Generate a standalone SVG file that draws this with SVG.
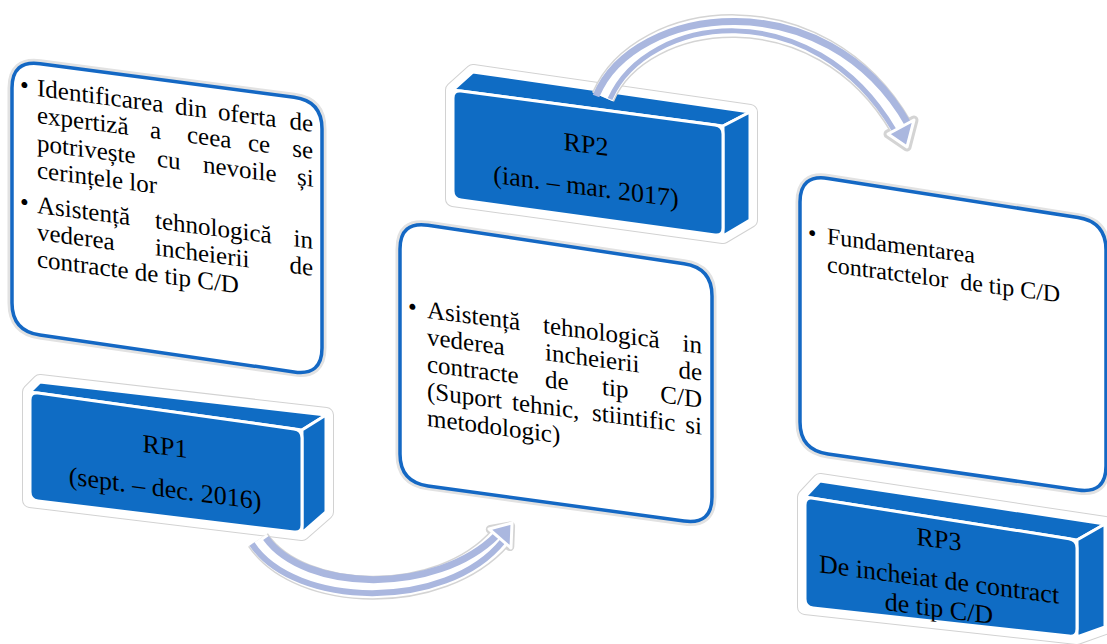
<svg xmlns="http://www.w3.org/2000/svg" width="1107" height="644" viewBox="0 0 1107 644">
<defs>
<style>
.wglow{fill:none;stroke:#e2e2e2;stroke-width:9;stroke-linejoin:round}
.wbox{fill:#fff;stroke:#1468c4;stroke-width:3.5}
.hg{fill:#fff;stroke:#d2d2d2;stroke-width:16;stroke-linejoin:round}
.hw{fill:#fff;stroke:#fff;stroke-width:14;stroke-linejoin:round}
.face{fill:#0f6cc4;stroke:#fff;stroke-width:3;stroke-linejoin:round}
.t{font-family:"Liberation Serif","Times New Roman",serif;font-size:25px;fill:#000}
.t3{font-size:24px}
.tb{font-family:"Liberation Serif","Times New Roman",serif;font-size:26px;fill:#000;text-anchor:middle}
.ag{fill:none;stroke:#d4d4d4;stroke-width:24}
.aw{fill:none;stroke:#fff;stroke-width:21}
.as{fill:none;stroke:#aab7df}
.hd{fill:#aab7df;stroke:#fff;stroke-width:3;stroke-linejoin:round}
.hdg{fill:#fff;stroke:#d4d4d4;stroke-width:9;stroke-linejoin:round}
</style>
</defs>
<rect width="1107" height="644" fill="#fff"/>

<g id="box1">
<path class="wglow" d="M 12,88 Q 12,60 40,63.7 L 294,97.3 Q 322,101 322,129 L 322,348 Q 322,376 294,371.9 L 40,335.1 Q 12,331 12,303 Z"/>
<path class="wbox" d="M 12,88 Q 12,60 40,63.7 L 294,97.3 Q 322,101 322,129 L 322,348 Q 322,376 294,371.9 L 40,335.1 Q 12,331 12,303 Z"/>
<g transform="matrix(1,0.13,0,1,0,-4.81)">
<text class="t" x="20" y="95">•</text>
<text class="t" y="96"><tspan x="37">Identificarea </tspan><tspan x="175">din </tspan><tspan x="218">oferta </tspan><tspan x="289.4">de</tspan></text>
<text class="t" y="123"><tspan x="37">expertiză </tspan><tspan x="150">a </tspan><tspan x="187">ceea </tspan><tspan x="248">ce </tspan><tspan x="292.2">se</tspan></text>
<text class="t" y="151"><tspan x="37">potrivește </tspan><tspan x="157">cu </tspan><tspan x="203">nevoile </tspan><tspan x="297">și</tspan></text>
<text class="t" x="37" y="178">cerințele lor</text>
<text class="t" x="20" y="212">•</text>
<text class="t" y="213"><tspan x="37">Asistență </tspan><tspan x="155">tehnologică </tspan><tspan x="293.5">in</tspan></text>
<text class="t" y="240"><tspan x="37">vederea </tspan><tspan x="155">incheierii </tspan><tspan x="289.4">de</tspan></text>
<text class="t" x="37" y="267">contracte de tip C/D</text>
</g>
</g>

<g id="box2">
<path class="wglow" d="M 400,249 Q 400,221 428,225.2 L 684,263.8 Q 712,268 712,296 L 712,497 Q 712,525 684,521.1 L 428,485.9 Q 400,482 400,454 Z"/>
<path class="wbox" d="M 400,249 Q 400,221 428,225.2 L 684,263.8 Q 712,268 712,296 L 712,497 Q 712,525 684,521.1 L 428,485.9 Q 400,482 400,454 Z"/>
<g transform="matrix(1,0.13,0,1,0,-55.51)">
<text class="t" x="408" y="317">•</text>
<text class="t" y="318"><tspan x="427">Asistență </tspan><tspan x="543">tehnologică </tspan><tspan x="682.5">in</tspan></text>
<text class="t" y="345"><tspan x="427">vederea </tspan><tspan x="545">incheierii </tspan><tspan x="678.4">de</tspan></text>
<text class="t" y="372"><tspan x="427">contracte </tspan><tspan x="545">de </tspan><tspan x="602">tip </tspan><tspan x="660.3">C/D</tspan></text>
<text class="t" y="399"><tspan x="427">(Suport </tspan><tspan x="512">tehnic, </tspan><tspan x="592">stiintific </tspan><tspan x="685.3">si</tspan></text>
<text class="t" x="427" y="426">metodologic)</text>
</g>
</g>

<g id="box3">
<path class="wglow" d="M 800,202 Q 800,174 828,178.4 L 1078,217.6 Q 1106,222 1106,250 L 1106,466 Q 1106,494 1078,490 L 828,454 Q 800,450 800,422 Z"/>
<path class="wbox" d="M 800,202 Q 800,174 828,178.4 L 1078,217.6 Q 1106,222 1106,250 L 1106,466 Q 1106,494 1078,490 L 828,454 Q 800,450 800,422 Z"/>
<g transform="matrix(1,0.13,0,1,0,-107.51)">
<text class="t t3" x="808" y="243">•</text>
<text class="t t3" x="827" y="244">Fundamentarea</text>
<text class="t t3" x="827" y="272" xml:space="preserve">contratctelor  de tip C/D</text>
</g>
</g>

<g id="rp1">
<path class="hg" d="M 30,392 L 40,382 L 326,415 L 326,512 L 302,533 L 30,500 Z"/>
<path class="hw" d="M 30,392 L 40,382 L 326,415 L 326,512 L 302,533 L 30,500 Z"/>
<path class="face" d="M 30,392 L 40,382 L 326,415 L 302,430 Z"/>
<path class="face" d="M 302,430 L 326,415 L 326,512 L 302,533 Z"/>
<path class="face" d="M 30,400 Q 30,392 38,393.1 L 294,428.9 Q 302,430 302,438 L 302,525 Q 302,533 294,532 L 38,501 Q 30,500 30,492 Z"/>
<g transform="matrix(1,0.13,0,1,0,-21.45)">
<text class="tb" x="165" y="455">RP1</text>
<text class="tb" x="165" y="497">(sept. – dec. 2016)</text>
</g>
</g>

<g id="rp2">
<path class="hg" d="M 453,90 L 473,72 L 750,112 L 750,220 L 723,236 L 453,199 Z"/>
<path class="hw" d="M 453,90 L 473,72 L 750,112 L 750,220 L 723,236 L 453,199 Z"/>
<path class="face" d="M 453,90 L 473,72 L 750,112 L 723,126 Z"/>
<path class="face" d="M 723,126 L 750,112 L 750,220 L 723,236 Z"/>
<path class="face" d="M 453,98 Q 453,90 461,91 L 715,125 Q 723,126 723,134 L 723,228 Q 723,236 715,235 L 461,200 Q 453,199 453,191 Z"/>
<g transform="matrix(1,0.13,0,1,0,-76.18)">
<text class="tb" x="586" y="153">RP2</text>
<text class="tb" x="586" y="195">(ian. – mar. 2017)</text>
</g>
</g>

<g id="rp3">
<path class="hg" d="M 805,497 L 820,481 L 1105,524 L 1105,627 L 1077,637 L 805,607 Z"/>
<path class="hw" d="M 805,497 L 820,481 L 1105,524 L 1105,627 L 1077,637 L 805,607 Z"/>
<path class="face" d="M 805,497 L 820,481 L 1105,524 L 1077,540 Z"/>
<path class="face" d="M 1077,540 L 1105,524 L 1105,627 L 1077,637 Z"/>
<path class="face" d="M 805,505 Q 805,497 813,498.3 L 1069,538.7 Q 1077,540 1077,548 L 1077,629 Q 1077,637 1069,636.1 L 813,607.9 Q 805,607 805,599 Z"/>
<g transform="matrix(1,0.13,0,1,0,-122.07)">
<text class="tb" x="939" y="548">RP3</text>
<text class="tb" x="939" y="588">De incheiat de contract</text>
<text class="tb" x="939" y="617">de tip C/D</text>
</g>
</g>

<g id="connectors">
<g id="arrow-rp1-rp2">
<path class="ag" d="M 258,540 C 300,602 440,606 500,538"/>
<polygon class="hdg" points="509.8,546.6 490.3,529.4 510.6,526"/>
<path class="aw" d="M 258,540 C 300,602 440,606 500,538"/>
<path class="as" stroke-width="7" d="M 266,538 C 305,592 436,596 497,535"/>
<path class="as" stroke-width="6" d="M 252,544 C 294,608 446,612 503,541"/>
<polygon class="hd" points="511,548 489,529 512,523"/>
</g>
<g id="arrow-rp2-rp3">
<path class="ag" d="M 603,97 C 641,9 819,-14 901,127"/>
<polygon class="hdg" points="914,120 888,134 907,147"/>
<path class="aw" d="M 603,97 C 641,9 819,-14 901,127"/>
<path class="as" stroke-width="7" d="M 596,96 C 634,4 826,-20 908,124"/>
<path class="as" stroke-width="5" d="M 610,99 C 648,14 812,-8 894,130"/>
<polygon class="hd" points="914,120 888,134 907,147"/>
</g>
</g>
</svg>
